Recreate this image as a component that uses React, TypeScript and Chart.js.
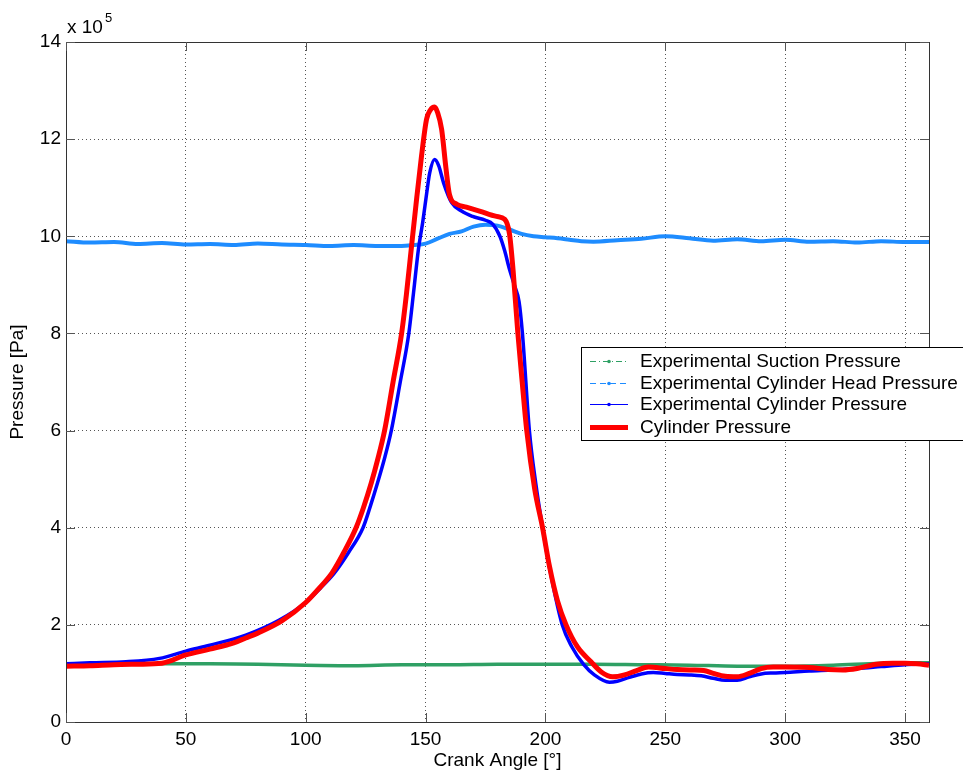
import { useEffect, useRef } from 'react';
import { Chart, registerables } from 'chart.js';

Chart.register(...registerables);

const FONT = "'Liberation Sans', Arial, Helvetica, sans-serif";

// Crank angle ticks and pressure ticks (x 10^5 Pa)
const xTicks = [0, 50, 100, 150, 200, 250, 300, 350];
const yTicks = [0, 2, 4, 6, 8, 10, 12, 14];

// Experimental Cylinder Head Pressure
const headAngle = [0, 10, 20, 30, 40, 50, 60, 70, 80, 90, 100, 110, 120, 130, 140, 145, 150, 155, 160, 165, 170, 175, 180, 185, 190, 195, 200, 205, 210, 215, 220, 230, 240, 250, 260, 270, 280, 290, 300, 310, 320, 330, 340, 350, 360];
const headPressure = [9.9, 9.87, 9.88, 9.84, 9.86, 9.83, 9.84, 9.82, 9.85, 9.83, 9.82, 9.8, 9.82, 9.8, 9.8, 9.82, 9.85, 9.95, 10.05, 10.1, 10.2, 10.24, 10.22, 10.14, 10.05, 10.0, 9.98, 9.96, 9.93, 9.9, 9.89, 9.92, 9.95, 10.0, 9.96, 9.91, 9.94, 9.9, 9.93, 9.89, 9.9, 9.87, 9.9, 9.88, 9.88];

// Experimental Suction Pressure
const suctionAngle = [0, 20, 40, 60, 80, 100, 120, 140, 160, 180, 200, 220, 240, 260, 280, 300, 320, 340, 360];
const suctionPressure = [1.2, 1.2, 1.2, 1.2, 1.19, 1.17, 1.16, 1.18, 1.18, 1.19, 1.19, 1.19, 1.18, 1.17, 1.15, 1.15, 1.17, 1.21, 1.22];

// Experimental Cylinder Pressure
const expAngle = [0, 10, 25, 39, 50, 60, 75, 89, 100, 106, 112, 118, 123.9, 127, 130, 133, 135.7, 139.4, 143, 145, 147, 148.8, 150.5, 151.7, 153.75, 155.5, 157.5, 160.8, 165, 169.6, 175, 178, 181, 183, 185, 187, 189, 190.4, 193.3, 196, 198.8, 202, 207, 211, 216, 220.4, 226.7, 230, 235, 240, 245, 250, 255, 260, 265, 270, 275, 280, 285, 290, 295, 300, 310, 320, 330, 340, 350, 360];
const expPressure = [1.2, 1.22, 1.24, 1.31, 1.46, 1.58, 1.79, 2.1, 2.46, 2.75, 3.07, 3.5, 4.0, 4.45, 4.93, 5.45, 6.0, 6.99, 8.0, 8.85, 9.73, 10.29, 10.9, 11.3, 11.58, 11.45, 11.1, 10.7, 10.52, 10.41, 10.33, 10.25, 10.0, 9.7, 9.32, 9.0, 8.65, 8.0, 6.0, 4.9, 4.0, 3.1, 2.0, 1.55, 1.18, 0.97, 0.82, 0.84, 0.92, 0.99, 1.02, 1.0, 0.98, 0.97, 0.95, 0.9, 0.86, 0.86, 0.93, 0.99, 1.01, 1.02, 1.05, 1.07, 1.1, 1.14, 1.18, 1.2];

// Cylinder Pressure (model)
const cylAngle = [0, 10, 20, 30, 40, 50, 60, 70, 75, 80, 90, 100, 105, 111, 116, 121, 124, 127.4, 130, 132.9, 136.4, 140, 142, 144, 146, 148.3, 150.4, 152, 153.75, 155, 156.7, 158.5, 160, 163, 167, 172.5, 179.6, 183, 185, 186.5, 188.5, 190.3, 192.2, 195.5, 198.8, 201.7, 205, 208.6, 213.3, 219, 223.3, 228, 233, 238, 243, 250, 255, 261, 266, 270, 275, 280, 285, 290, 295, 300, 310, 318, 324, 330, 338, 345, 350, 355, 360];
const cylPressure = [1.15, 1.16, 1.18, 1.19, 1.21, 1.38, 1.5, 1.63, 1.73, 1.83, 2.08, 2.46, 2.72, 3.07, 3.5, 4.0, 4.4, 4.93, 5.4, 6.0, 6.99, 8.0, 8.8, 9.73, 10.65, 11.65, 12.41, 12.6, 12.66, 12.55, 12.2, 11.4, 10.85, 10.66, 10.6, 10.52, 10.41, 10.35, 10.05, 9.3, 8.0, 7.0, 6.0, 4.8, 4.0, 3.2, 2.5, 2.0, 1.55, 1.24, 1.03, 0.93, 0.97, 1.06, 1.13, 1.1, 1.08, 1.07, 1.06, 1.0, 0.94, 0.93, 1.0, 1.1, 1.13, 1.13, 1.12, 1.08, 1.07, 1.1, 1.19, 1.21, 1.21, 1.2, 1.17];

const legendLabels = [
  'Experimental Suction Pressure',
  'Experimental Cylinder Head Pressure',
  'Experimental Cylinder Pressure',
  'Cylinder Pressure',
];

const RED = '#ff0000';
const BLUE = '#0000ff';
const HEAD = '#1e8cff';
const GREEN = '#2fa064';

const pts = (xs: number[], ys: number[]) => xs.map((x, i) => ({ x, y: ys[i] }));

const framePlugin = {
  id: 'frame',
  beforeDraw(chart: any) {
    const { ctx, width, height } = chart;
    ctx.save();
    ctx.fillStyle = '#ffffff';
    ctx.fillRect(0, 0, width, height);
    ctx.restore();
  },
  afterDraw(chart: any) {
    const { ctx, chartArea: a, scales } = chart;
    const xs = scales.x;
    const ys = scales.y;
    ctx.save();
    ctx.strokeStyle = '#333333';
    ctx.lineWidth = 1;
    ctx.setLineDash([]);
    ctx.strokeRect(Math.round(a.left) + 0.5, Math.round(a.top) + 0.5, Math.round(a.right - a.left), Math.round(a.bottom - a.top));
    const tl = 9;
    ctx.strokeStyle = '#555555';
    ctx.beginPath();
    xTicks.forEach((v) => {
      const px = Math.round(xs.getPixelForValue(v)) + 0.5;
      ctx.moveTo(px, a.bottom);
      ctx.lineTo(px, a.bottom - tl);
      ctx.moveTo(px, a.top);
      ctx.lineTo(px, a.top + tl);
    });
    yTicks.forEach((v) => {
      const py = Math.round(ys.getPixelForValue(v)) + 0.5;
      ctx.moveTo(a.left, py);
      ctx.lineTo(a.left + tl, py);
      ctx.moveTo(a.right, py);
      ctx.lineTo(a.right - tl, py);
    });
    ctx.stroke();

    // exponent label
    ctx.fillStyle = '#000000';
    ctx.textBaseline = 'alphabetic';
    ctx.textAlign = 'left';
    ctx.font = `19px ${FONT}`;
    ctx.fillText('x 10', 67, 33);
    ctx.font = `13px ${FONT}`;
    ctx.fillText('5', 105, 22);

    // legend
    const lx = 581;
    const ly = 347;
    ctx.fillStyle = '#ffffff';
    ctx.fillRect(lx, ly, 420, 93);
    ctx.strokeStyle = '#000000';
    ctx.lineWidth = 1;
    ctx.strokeRect(lx + 0.5, ly + 0.5, 420, 93);
    const rows = [361, 383, 404, 427];
    const styles = [
      { color: GREEN, dash: [6, 3, 1, 3], w: 1, marker: true },
      { color: HEAD, dash: [6, 4], w: 1, marker: true },
      { color: BLUE, dash: [], w: 1, marker: true },
      { color: RED, dash: [], w: 5, marker: false },
    ];
    rows.forEach((ry, i) => {
      const s = styles[i];
      ctx.strokeStyle = s.color;
      ctx.lineWidth = s.w;
      ctx.setLineDash(s.dash);
      ctx.beginPath();
      ctx.moveTo(590, ry + 0.5);
      ctx.lineTo(628, ry + 0.5);
      ctx.stroke();
      ctx.setLineDash([]);
      if (s.marker) {
        ctx.fillStyle = s.color;
        ctx.beginPath();
        ctx.arc(609, ry + 0.5, 1.8, 0, Math.PI * 2);
        ctx.fill();
      }
      ctx.fillStyle = '#000000';
      ctx.font = `19px ${FONT}`;
      ctx.textBaseline = 'middle';
      ctx.fillText(legendLabels[i], 640, ry + 1);
    });
    ctx.restore();
  },
};

export default function App() {
  const ref = useRef<HTMLCanvasElement>(null);
  useEffect(() => {
    document.body.style.margin = '0';
    const chart = new Chart(ref.current as HTMLCanvasElement, {
      type: 'line',
      data: {
        datasets: [
          {
            label: legendLabels[3],
            data: pts(cylAngle, cylPressure),
            borderColor: RED,
            borderWidth: 5,
            pointRadius: 0,
            cubicInterpolationMode: 'monotone',
          },
          {
            label: legendLabels[2],
            data: pts(expAngle, expPressure),
            borderColor: BLUE,
            borderWidth: 3.5,
            pointRadius: 0,
            cubicInterpolationMode: 'monotone',
          },
          {
            label: legendLabels[0],
            data: pts(suctionAngle, suctionPressure),
            borderColor: GREEN,
            borderWidth: 3.5,
            pointRadius: 0,
            cubicInterpolationMode: 'monotone',
          },
          {
            label: legendLabels[1],
            data: pts(headAngle, headPressure),
            borderColor: HEAD,
            borderWidth: 4,
            pointRadius: 0,
            cubicInterpolationMode: 'monotone',
          },
        ],
      },
      options: {
        responsive: false,
        animation: false,
        layout: { padding: { top: 42, right: 34, left: 0, bottom: 0 } },
        plugins: { legend: { display: false }, tooltip: { enabled: false } },
        scales: {
          x: {
            type: 'linear',
            min: 0,
            max: 360,
            afterBuildTicks: (s: any) => {
              s.ticks = xTicks.map((v) => ({ value: v }));
            },
            afterFit: (s: any) => {
              s.height = 51;
            },
            border: { display: false, dash: [1, 3] },
            grid: { color: '#555555', lineWidth: 1, drawTicks: false },
            ticks: { color: '#000000', font: { family: FONT, size: 19 }, padding: 6, maxRotation: 0, autoSkip: false },
            title: { display: true, text: 'Crank Angle [°]', color: '#000000', font: { family: FONT, size: 19 }, padding: { top: 0, bottom: 1 } },
          },
          y: {
            type: 'linear',
            min: 0,
            max: 14,
            afterBuildTicks: (s: any) => {
              s.ticks = yTicks.map((v) => ({ value: v }));
            },
            afterFit: (s: any) => {
              s.width = 66;
            },
            border: { display: false, dash: [1, 3] },
            grid: { color: '#555555', lineWidth: 1, drawTicks: false },
            ticks: { color: '#000000', font: { family: FONT, size: 19 }, padding: 5, autoSkip: false },
            title: { display: true, text: 'Pressure [Pa]', color: '#000000', font: { family: FONT, size: 19 }, padding: { top: 6, bottom: 0 } },
          },
        },
      } as any,
      plugins: [framePlugin],
    });
    return () => chart.destroy();
  }, []);
  return <canvas ref={ref} width={963} height={773} style={{ display: 'block', width: 963, height: 773 }} />;
}
